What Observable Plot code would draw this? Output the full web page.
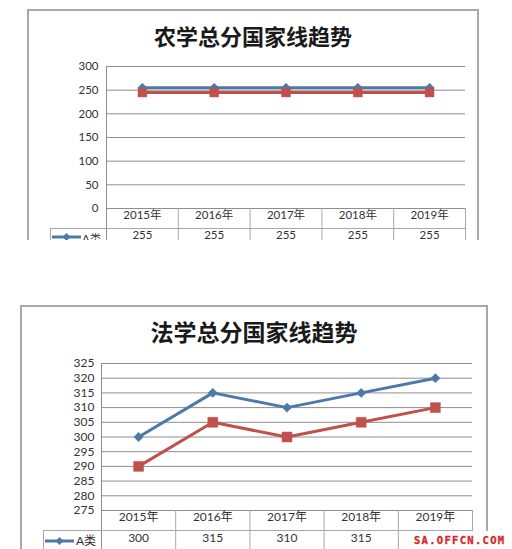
<!DOCTYPE html>
<html><head><meta charset="utf-8">
<script src="https://cdn.jsdelivr.net/npm/d3@7"></script>
<script src="https://cdn.jsdelivr.net/npm/@observablehq/plot@0.6"></script>
<style>
body{margin:0;background:#fff;width:512px;height:549px;overflow:hidden;position:relative;font-family:Lato,"Noto Sans CJK SC",sans-serif}
.panel{position:absolute;left:0;width:512px;overflow:hidden}
.frame{position:absolute;border:2px solid #a8a8a8;border-bottom:none;height:400px;box-sizing:border-box}
.title{position:absolute;left:0;text-align:center;font-weight:bold;font-family:"Noto Sans CJK SC",sans-serif;color:#1a1a1a;white-space:nowrap}
.legsw{position:absolute}
.legtx{position:absolute;color:#333;font-family:Lato,"Noto Sans CJK SC",sans-serif;white-space:nowrap}
.wm{position:absolute;left:404px;top:531px;width:108px;height:18px;background:#fff;color:#d42a2a;font:bold 10.5px/12px "DejaVu Sans Mono",monospace;letter-spacing:1.3px;-webkit-text-stroke:0.35px #d42a2a;white-space:nowrap;padding:3px 0 0 10px;box-sizing:border-box}
.panel svg.chart{position:absolute;left:0;top:0}
</style></head>
<body>
<div id="top" class="panel" style="top:0;height:240px"></div>
<div id="bot" class="panel" style="top:290px;height:259px"></div>
<div class="wm">SA.OFFCN.COM</div>
<script>
const years = [2015, 2016, 2017, 2018, 2019];
const agriTitle = "农学总分国家线趋势";
const agriA = [255, 255, 255, 255, 255];
const agriB = [245, 245, 245, 245, 245];
const agriTicks = [0, 50, 100, 150, 200, 250, 300];
const lawTitle = "法学总分国家线趋势";
const lawA = [300, 315, 310, 315, 320];
const lawB = [290, 305, 300, 305, 310];
const lawTicks = [275, 280, 285, 290, 295, 300, 305, 310, 315, 320, 325];
const seriesNames = ["A类", "B类"];

const blue = "#4d79aa", red = "#c0504d", gridColor = "#8e8e8e", tableColor = "#a8a8a8";

function makeChart(cfg) {
  const A = years.map((y, i) => ({year: y, value: cfg.A[i]}));
  const B = years.map((y, i) => ({year: y, value: cfg.B[i]}));
  const tableA = A.filter(d => !cfg.hidden.includes(d.year));
  const bounds = [years[0] - 0.5, ...years.map(y => y + 0.5)];
  const plotH = cfg.height - cfg.mt - cfg.mb;
  const ymin = cfg.ticks[0], ymax = cfg.ticks[cfg.ticks.length - 1];
  const chart = Plot.plot({
    width: 512, height: cfg.height,
    marginLeft: cfg.ml, marginRight: cfg.mr, marginTop: cfg.mt, marginBottom: cfg.mb,
    x: {domain: [bounds[0], bounds[bounds.length - 1]], axis: null},
    y: {domain: [ymin, ymax], ticks: cfg.ticks, tickSize: 0, tickPadding: cfg.pad, label: null, tickFormat: d => String(d)},
    style: {fontFamily: 'Lato, "Noto Sans CJK SC", sans-serif', fontSize: cfg.fs + "px", color: "#333", background: "transparent", overflow: "visible"},
    marks: [
      Plot.ruleY(cfg.ticks, {stroke: gridColor, strokeWidth: 1}),
      Plot.ruleX([bounds[0]], {stroke: gridColor, strokeWidth: 1, insetBottom: -80}),
      Plot.ruleX(bounds.slice(1), {stroke: tableColor, strokeWidth: 1, insetTop: plotH, insetBottom: -80}),
      Plot.ruleY([ymin], {stroke: tableColor, strokeWidth: 1, dy: 20, insetLeft: -cfg.legW}),
      Plot.ruleX([bounds[0]], {stroke: tableColor, strokeWidth: 1, dx: -cfg.legW, insetTop: plotH + 20, insetBottom: -80}),
      Plot.text(years, {x: d => d, text: d => d + "年", frameAnchor: "bottom", dy: 10, fontSize: cfg.fs, fill: "#333"}),
      Plot.text(tableA, {x: "year", text: d => String(d.value), frameAnchor: "bottom", dy: cfg.rowDy, fontSize: cfg.fs, fill: "#333"}),
      Plot.line(A, {x: "year", y: "value", stroke: blue, strokeWidth: 3}),
      Plot.dot(A, {x: "year", y: "value", symbol: "diamond2", r: 4.2, fill: blue, stroke: blue, strokeWidth: 0.5}),
      Plot.line(B, {x: "year", y: "value", stroke: red, strokeWidth: 3}),
      Plot.dot(B, {x: "year", y: "value", symbol: "square", r: cfg.sq, fill: red, stroke: red, strokeWidth: 0.5})
    ]
  });
  chart.classList.add("chart");
  const el = document.getElementById(cfg.id);
  const frame = document.createElement("div");
  frame.className = "frame";
  Object.assign(frame.style, {left: cfg.frame[0] + "px", top: cfg.frame[1] + "px", width: cfg.frame[2] + "px"});
  el.appendChild(frame);
  el.appendChild(chart);
  const t = document.createElement("div");
  t.className = "title";
  t.textContent = cfg.title;
  Object.assign(t.style, {top: cfg.titleTop + "px", width: cfg.titleW + "px", fontSize: cfg.titleSize + "px", lineHeight: cfg.titleSize + "px"});
  el.appendChild(t);
  const sw = document.createElementNS("http://www.w3.org/2000/svg", "svg");
  sw.setAttribute("class", "legsw");
  sw.setAttribute("width", "29"); sw.setAttribute("height", "10");
  Object.assign(sw.style, {left: cfg.legSw[0] + "px", top: cfg.legSw[1] + "px"});
  sw.innerHTML = `<line x1="0" y1="5" x2="29" y2="5" stroke="${blue}" stroke-width="3"/><path d="M14.5 1 L18.5 5 L14.5 9 L10.5 5 Z" fill="${blue}"/>`;
  el.appendChild(sw);
  const tx = document.createElement("div");
  tx.className = "legtx";
  tx.textContent = seriesNames[0];
  Object.assign(tx.style, {left: cfg.legTx[0] + "px", top: cfg.legTx[1] + "px", fontSize: cfg.fs + "px", lineHeight: "13px"});
  el.appendChild(tx);
}

makeChart({id: "top", title: agriTitle, A: agriA, B: agriB, ticks: agriTicks, hidden: [],
  height: 240, ml: 106, mr: 47, mt: 66, mb: 32, pad: 8, fs: 11.5, legW: 56, rowDy: 30, sq: 5,
  frame: [27, 9, 452], titleTop: 24, titleW: 506, titleSize: 22, legSw: [52, 232], legTx: [82, 232]});
makeChart({id: "bot", title: lawTitle, A: lawA, B: lawB, ticks: lawTicks, hidden: [2019],
  height: 259, ml: 101, mr: 40, mt: 73, mb: 39, pad: 7, fs: 12, legW: 58, rowDy: 31, sq: 5.6,
  frame: [20, 15, 468], titleTop: 30, titleW: 508, titleSize: 23, legSw: [45, 246], legTx: [76, 244]});
</script>
</body></html>
